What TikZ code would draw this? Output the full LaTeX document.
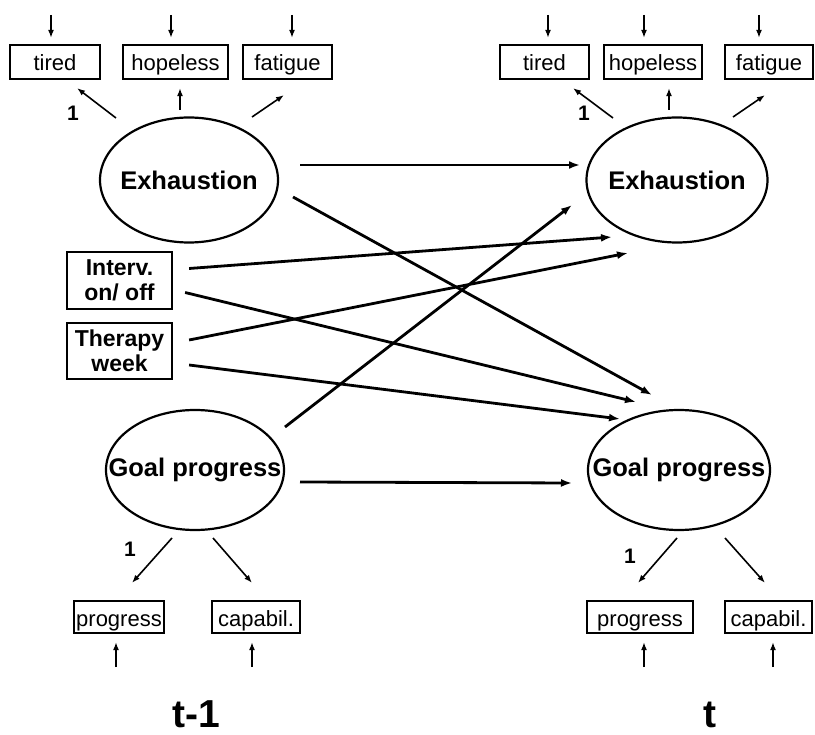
\documentclass[tikz,border=0pt]{standalone}
\usepackage{fontspec}
\setmainfont{Liberation Sans}
\usetikzlibrary{shapes.geometric,arrows.meta,calc}
\newcommand{\lbl}[1]{\makebox[0pt]{#1}}
\begin{document}
\begin{tikzpicture}[x=1pt,y=-1pt,
  latent/.style={draw,ellipse,line width=2.2pt,inner sep=0pt,font=\fontsize{25.5}{28}\selectfont\bfseries},
  indic/.style={draw,rectangle,line width=2.2pt,inner sep=0pt,text height=22pt,text depth=4pt,font=\fontsize{22}{24}\selectfont},
  covar/.style={draw,rectangle,line width=2.2pt,inner sep=0pt,align=center,font=\fontsize{23}{25}\selectfont\bfseries},
  path/.style={line width=2.8pt,-{Latex[length=11pt,width=8pt]}},
  load/.style={line width=1.6pt,-{Latex[length=8pt,width=6pt]}},
  err/.style={line width=1.6pt,-{Latex[length=8pt,width=6pt]}},
  one/.style={font=\fontsize{21}{23}\selectfont\bfseries},
  timelbl/.style={inner sep=0pt,font=\fontsize{39}{42}\selectfont\bfseries}]
\useasboundingbox (0,0) rectangle (815,735);

% latent variables (labels may overrun the outline)
\node[latent,minimum width=178pt,minimum height=125pt] (exA) at (189,180) {\lbl{Exhaustion}};
\node[latent,minimum width=181pt,minimum height=125pt] (exB) at (677,180) {\lbl{Exhaustion}};
\node[latent,minimum width=178pt,minimum height=120pt] (gpA) at (195,470) {\lbl{Goal progress}};
\node[latent,minimum width=182pt,minimum height=120pt] (gpB) at (679,470) {\lbl{Goal progress}};

% exhaustion indicators
\node[indic,minimum width=90pt,minimum height=34pt] (tiA) at (55,62) {tired};
\node[indic,minimum width=105pt,minimum height=34pt] (hoA) at (175.5,62) {hopeless};
\node[indic,minimum width=89pt,minimum height=34pt] (faA) at (287.5,62) {fatigue};
\node[indic,minimum width=89pt,minimum height=34pt] (tiB) at (544.5,62) {tired};
\node[indic,minimum width=98pt,minimum height=34pt] (hoB) at (653,62) {hopeless};
\node[indic,minimum width=88pt,minimum height=34pt] (faB) at (769,62) {fatigue};

% goal progress indicators
\node[indic,minimum width=90pt,minimum height=32pt] (prA) at (119,617) {\lbl{progress}};
\node[indic,minimum width=88pt,minimum height=32pt] (caA) at (256,617) {capabil.};
\node[indic,minimum width=106pt,minimum height=32pt] (prB) at (640,617) {progress};
\node[indic,minimum width=87pt,minimum height=32pt] (caB) at (768.5,617) {\lbl{capabil.}};

% covariates
\node[covar,minimum width=105pt,minimum height=57pt] (iv) at (119.5,280.5) {Interv.\\on/ off};
\node[covar,minimum width=105pt,minimum height=56pt] (tw) at (119.5,351) {Therapy\\week};

% error terms (free ends)
\coordinate (eTiA) at (51,15);  \coordinate (eHoA) at (171,15);  \coordinate (eFaA) at (292,15);
\coordinate (eTiB) at (548,15); \coordinate (eHoB) at (644,15);  \coordinate (eFaB) at (759,15);
\coordinate (ePrA) at (116,667); \coordinate (eCaA) at (252,667);
\coordinate (ePrB) at (644,667); \coordinate (eCaB) at (773,667);

\foreach \e/\b in {eTiA/tiA,eHoA/hoA,eFaA/faA,eTiB/tiB,eHoB/hoB,eFaB/faB}
  \draw[err,shorten >=6pt] (\e) -- (\e |- \b.north);
\foreach \e/\b in {ePrA/prA,eCaA/caA,ePrB/prB,eCaB/caB}
  \draw[err,shorten >=8pt] (\e) -- (\e |- \b.south);

% loadings, exhaustion at t-1
\draw[load] ($(exA.center)+(-73,-62)$) -- ($(tiA.south)+(22,8)$);
\draw[load] ($(exA.center)+(-9,-70)$) -- ($(hoA.south)+(4.5,8)$);
\draw[load] ($(exA.center)+(63,-63)$) -- ($(faA.south)+(-3.5,15)$);
\node[one] (oneA) at (73,113) {1};
% loadings, exhaustion at t
\draw[load] ($(exB.center)+(-64,-62)$) -- ($(tiB.south)+(28.5,8)$);
\draw[load] ($(exB.center)+(-8,-70)$) -- ($(hoB.south)+(16,8)$);
\draw[load] ($(exB.center)+(56,-63)$) -- ($(faB.south)+(-4,15)$);
\node[one] (oneB) at (584,113) {1};

% loadings, goal progress at t-1
\draw[load] ($(gpA.center)+(-23,68)$) -- ($(prA.north)+(13,-17)$);
\draw[load] ($(gpA.center)+(18,68)$) -- ($(caA.north)+(-4,-17)$);
\node[one] (oneC) at (130,549) {1};
% loadings, goal progress at t
\draw[load] ($(gpB.center)+(-2,68)$) -- ($(prB.north)+(-2,-17)$);
\draw[load] ($(gpB.center)+(46,68)$) -- ($(caB.north)+(-3.5,-17)$);
\node[one] (oneD) at (630,556) {1};

% structural paths
\draw[path] ($(exA.center)+(111,-15)$) -- ($(exB.center)+(-97,-15)$);
\draw[path] ($(exA.center)+(104,17)$) -- ($(gpB.center)+(-27,-75)$);
\draw[path] ($(gpA.center)+(90,-43)$) -- ($(exB.center)+(-105,25)$);
\draw[path] ($(iv.east)+(16,-12)$) -- ($(exB.center)+(-65,57)$);
\draw[path] ($(iv.east)+(12,12)$) -- ($(gpB.center)+(-43,-68)$);
\draw[path] ($(tw.east)+(16,-11)$) -- ($(exB.center)+(-49,73)$);
\draw[path] ($(tw.east)+(16,14)$) -- ($(gpB.center)+(-59,-51)$);
\draw[path] ($(gpA.center)+(105,12)$) -- ($(gpB.center)+(-107,13)$);

% time labels
\node[timelbl,anchor=base] (tprev) at (196,727) {t-1};
\node[timelbl,anchor=base] (tnow) at (710,727) {t};
\end{tikzpicture}
\end{document}
